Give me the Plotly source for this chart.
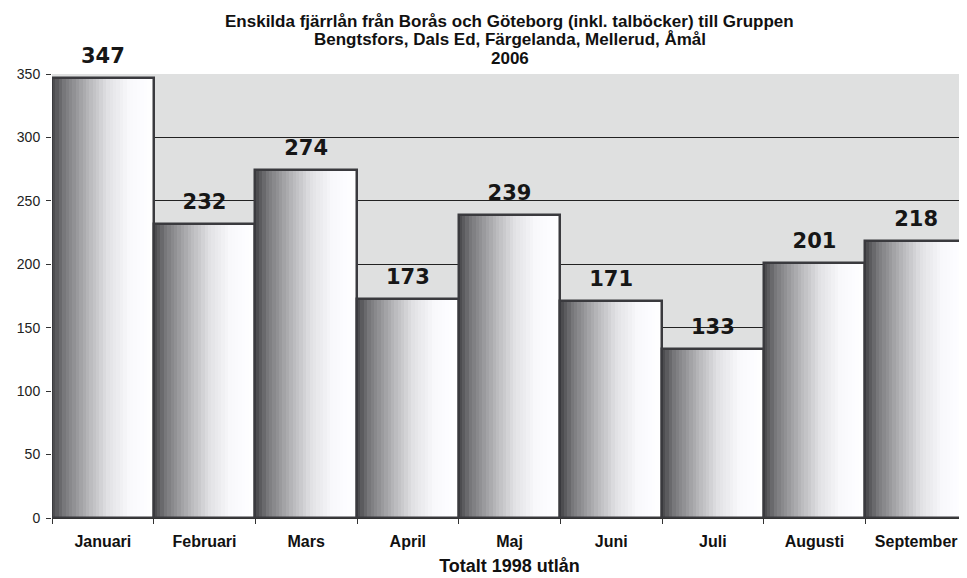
import plotly.graph_objects as go

months = ["Januari", "Februari", "Mars", "April", "Maj", "Juni", "Juli", "Augusti", "September"]
loans = [347, 232, 274, 173, 239, 171, 133, 201, 218]
y_ticks = [0, 50, 100, 150, 200, 250, 300, 350]

title_lines = [
    "Enskilda fjärrlån från Borås och Göteborg (inkl. talböcker) till Gruppen",
    "Bengtsfors, Dals Ed, Färgelanda, Mellerud, Åmål",
    "2006",
]

# gray ramp used to fake the shaded bar look (left dark -> right white)
stops = [(0.0, 70), (0.12, 120), (0.35, 180), (0.55, 225), (0.75, 248), (1.0, 255)]


def shade(t):
    for (t0, c0), (t1, c1) in zip(stops, stops[1:]):
        if t <= t1:
            v = round(c0 + (c1 - c0) * (t - t0) / (t1 - t0))
            return f"rgb({v},{v},{min(v + 3, 255)})"
    return "rgb(255,255,255)"


n_strips = 30
fig = go.Figure()
for i in range(n_strips):
    fig.add_trace(go.Bar(
        x=months, y=loans,
        width=1 / n_strips + 0.002,
        offset=-0.5 + i / n_strips,
        marker={"color": shade((i + 0.5) / n_strips), "line": {"width": 0}},
        hoverinfo="skip", showlegend=False,
    ))

# outline
fig.add_trace(go.Bar(
    x=months, y=loans, width=1, offset=-0.5,
    marker={"color": "rgba(0,0,0,0)", "line": {"color": "#3a3a3e", "width": 2.5}},
    hoverinfo="skip", showlegend=False,
))

fig.add_trace(go.Scatter(
    x=months, y=loans, mode="markers+text", text=[str(v) for v in loans],
    textposition="top center",
    marker={"size": 14, "opacity": 0},
    textfont={"family": "DejaVu Sans", "size": 21, "color": "#161616", "weight": "bold"},
    cliponaxis=False, hoverinfo="skip", showlegend=False,
))

# three title lines as annotations so size and spacing can be set separately
for line, yy in zip(title_lines, [1.118, 1.077, 1.034]):
    fig.add_annotation(
        text=line, xref="paper", yref="paper", x=0.5, y=yy,
        xanchor="center", yanchor="middle", showarrow=False,
        font={"family": "Liberation Sans, Arial, sans-serif", "size": 17, "color": "#111", "weight": "bold"},
    )

# the page body adds an 8px offset, so the figure is 8px smaller than the window
fig.update_layout(
    width=959, height=570,
    barmode="overlay", bargap=0,
    paper_bgcolor="white", plot_bgcolor="#dfe0e0",
    margin={"l": 44, "r": 0, "t": 66, "b": 60, "autoexpand": False},
    font={"family": "Liberation Sans, Arial, sans-serif", "color": "#222"},
)
fig.update_xaxes(
    title={"text": "Totalt 1998 utlån", "standoff": 10,
           "font": {"family": "Liberation Sans Narrow, Arial Narrow, sans-serif", "size": 18,
                    "color": "#111", "weight": "bold"}},
    tickfont={"size": 16, "color": "#111", "weight": "bold"},
    ticklabelstandoff=9,
    tickson="boundaries", ticks="outside", ticklen=5, tickcolor="#333",
    showline=True, linecolor="#333", linewidth=1, showgrid=False,
    range=[-0.5, 8.5], automargin=False,
)
fig.update_yaxes(
    range=[0, 350], tickvals=y_ticks, ticks="outside", ticklen=5, tickcolor="#333",
    tickfont={"size": 14, "color": "#222"}, ticklabelstandoff=3,
    showgrid=True, gridcolor="#222", gridwidth=1, zeroline=False, showline=False,
    automargin=False,
)

fig.write_html("out.html")
